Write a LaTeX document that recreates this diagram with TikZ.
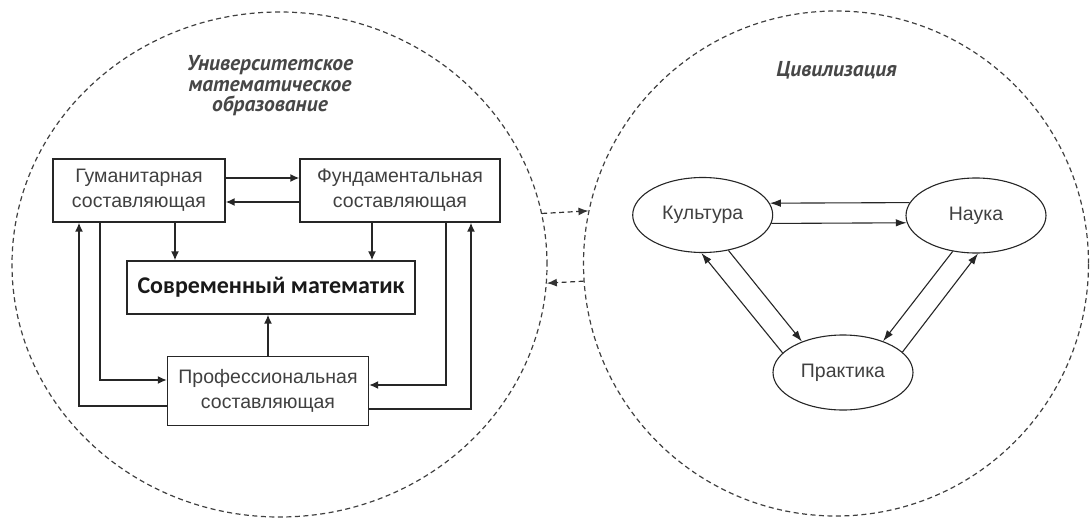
\documentclass[tikz,border=0pt]{standalone}
\usepackage{fontspec}
\setmainfont{Liberation Sans}
\newfontfamily\ttlfont{PT Sans}
\newfontfamily\smfont{Carlito}
\usetikzlibrary{arrows.meta,shapes.geometric}
\begin{document}
\begin{tikzpicture}[x=1pt,y=-1pt,
  box/.style={draw=black!85,line width=1.3pt,fill=white,inner sep=0pt,align=center,
    font=\fontsize{19.5}{25}\selectfont,text=black!75},
  oval/.style={ellipse,draw=black!85,line width=1.1pt,fill=white,minimum width=140pt,
    minimum height=75pt,inner sep=0pt,font=\fontsize{19.5}{24}\selectfont,text=black!75},
  arr/.style={-{Latex[length=9pt,width=8pt]},line width=1.6pt,draw=black!85},
  arrthin/.style={-{Latex[length=11pt,width=7.5pt]},line width=1.1pt,draw=black!85},
  zone/.style={draw=black!75,line width=1.2pt,dash pattern=on 5pt off 3.5pt,inner sep=0pt},
  dasharr/.style={-{Latex[length=10pt,width=8pt]},draw=black!80,line width=1.2pt,
    dash pattern=on 5pt off 3.5pt},
  ttl/.style={font=\ttlfont\bfseries\itshape\fontsize{21.5}{20.5}\selectfont,
    text=black!72,align=center}
]
\useasboundingbox (0,0) rectangle (1092,519);
% zones
\node[zone,ellipse,minimum width=535pt,minimum height=505pt] (L) at (279.5,264.5) {};
\node[zone,circle,minimum size=505pt] (R) at (836,263.5) {};
\draw[dasharr] (L.11.35) -- (R.168.23);
\draw[dasharr] (R.184.43) -- (L.356.03);
% titles
\node[ttl] (t1) at (270,86) {Университетское\\математическое\\образование};
\node[ttl] (t2) at (836.5,70) {Цивилизация};
% left boxes
\node[box,minimum width=172pt,minimum height=63pt] (gum) at (139,190.5) {Гуманитарная\\составляющая};
\node[box,minimum width=200pt,minimum height=63pt] (fund) at (400,190.5) {Фундаментальная\\составляющая};
\node[box,minimum width=288pt,minimum height=53pt,
  font=\smfont\bfseries\fontsize{24}{28}\selectfont,text=black!90] (sm) at (271,287.5) {Современный математик};
\node[box,minimum width=201pt,minimum height=69pt] (prof) at (268,391) {Профессиональная\\составляющая};
% helper coordinates
\coordinate (cA) at (175,0);
\coordinate (cB) at (372,0);
\coordinate (xL1) at (79,0);
\coordinate (xL2) at (100,0);
\coordinate (xR1) at (446,0);
\coordinate (xR2) at (471,0);
\coordinate (yL1) at (0,406);
\coordinate (yL2) at (0,380);
\coordinate (yR1) at (0,385);
\coordinate (yR2) at (0,409);
% left arrows
\draw[arr] ([yshift=12.5pt]gum.east) -- ([yshift=12.5pt]fund.west);
\draw[arr] ([yshift=-11.5pt]fund.west) -- ([yshift=-11.5pt]gum.east);
\draw[arr] (gum.south -| cA) -- (sm.north -| cA);
\draw[arr] (fund.south -| cB) -- (sm.north -| cB);
\draw[arr] (prof.north) -- (prof.north |- sm.south);
\draw[arr] (gum.south -| xL2) |- (prof.west |- yL2);
\draw[arr] (prof.west |- yL1) -| (gum.south -| xL1);
\draw[arr] (fund.south -| xR1) |- (prof.east |- yR1);
\draw[arr] (prof.east |- yR2) -| (fund.south -| xR2);
% right ovals
\node[oval] (K) at (702.7,215) {Культура};
\node[oval] (N) at (976,215.5) {Наука};
\node[oval] (P) at (843,372.5) {Практика};
\draw[arrthin] (N.169.3) -- (K.10.25);
\draw[arrthin] (K.353.3) -- (N.186.2);
\draw[arrthin] (P.162.4) -- (K.268.6);
\draw[arrthin] (K.306.6) -- (P.143.4);
\draw[arrthin] (N.237.7) -- (P.38.3);
\draw[arrthin] (P.19.4) -- (N.273.3);
\end{tikzpicture}
\end{document}
